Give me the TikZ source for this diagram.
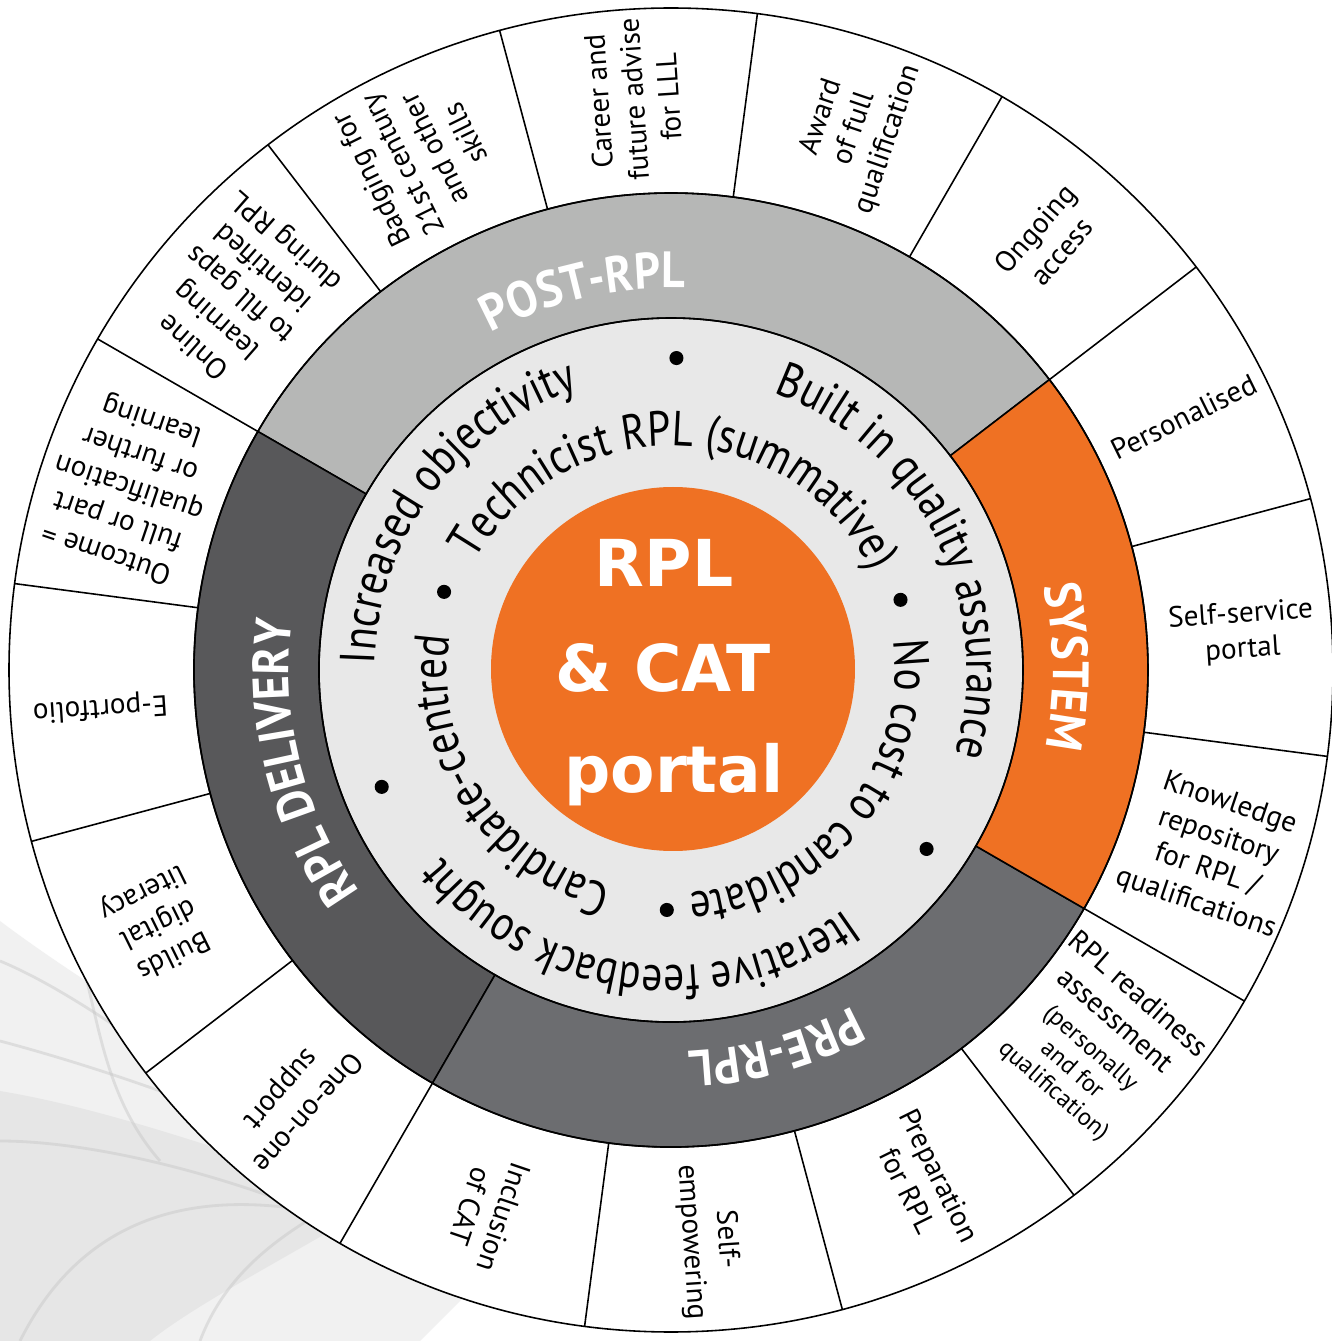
\documentclass[tikz,border=0pt]{standalone}
\usepackage{fontspec}
\setmainfont{PT Sans}
\newfontfamily\ringfam[FakeStretch=0.84]{PT Sans}
\newfontfamily\bandfam[FakeStretch=0.9]{PT Sans}
\newfontfamily\centerfam{DejaVu Sans}
\usetikzlibrary{decorations.text}
\definecolor{rorange}{HTML}{EF7123}
\definecolor{ringgray}{HTML}{E8E8E8}
\definecolor{postgray}{HTML}{B6B7B6}
\definecolor{delivgray}{HTML}{58585A}
\definecolor{pregray}{HTML}{6C6D70}
\definecolor{smoke}{HTML}{D9D9D9}
\newcommand{\ringfnt}{\ringfam\fontsize{14}{16}\selectfont}
\newcommand{\bandfnt}{\bandfam\bfseries\fontsize{14.5}{17}\selectfont}
\newcommand{\smallfnt}{\fontsize{7}{8.5}\selectfont}
\newcommand{\arctext}[4]{%
  \pgfmathsetmacro{\arcS}{#2+#3}%
  \pgfmathsetmacro{\arcE}{#2-#3}%
  \path[decorate,decoration={text along path,text align=center,text={#4}}]
    ([shift={(\arcS:#1)}]C) arc[start angle=\arcS,end angle=\arcE,radius=#1];}
\newcommand{\sector}[3]{%
  \filldraw[#1,draw=black,line width=0.45pt]
    ([shift={(#2:352)}]C) arc[start angle=#2,end angle=#3,radius=352]
    -- ([shift={(#3:477)}]C) arc[start angle=#3,end angle=#2,radius=477] -- cycle;}
\begin{document}
\begin{tikzpicture}[x=0.01cm,y=0.01cm,
  lbl/.style={align=center,font=\fontsize{8.3}{10}\selectfont,inner sep=0pt},
  dot/.style={circle,fill=black,minimum size=4pt,inner sep=0pt},
  ctr/.style={text=white,font=\centerfam\bfseries\fontsize{18.4}{29}\selectfont,anchor=base},
  ringline/.style={line width=0.45pt},
  wisp/.style={draw=gray!45,line width=0.8pt,opacity=0.45}]
\useasboundingbox (0,0) rectangle (1332,1341);
\fill[white] (0,0) rectangle (1332,1341);
\coordinate (C) at (671,671);
\coordinate (C0) at (673,672);
% faint smoke texture, bottom left
\fill[smoke,opacity=0.35] (0,420) .. controls (80,360) and (180,300) .. (300,230)
  .. controls (380,180) and (450,120) .. (480,60) -- (420,0) -- (0,0) -- cycle;
\fill[smoke,opacity=0.45] (0,250) .. controls (120,230) and (250,180) .. (380,140)
  .. controls (300,90) and (200,40) .. (150,0) -- (0,0) -- cycle;
\draw[wisp] (0,380) .. controls (120,330) and (250,200) .. (460,110);
\draw[wisp] (0,300) .. controls (150,260) and (300,200) .. (440,130);
\draw[wisp] (20,0) .. controls (80,120) and (200,180) .. (420,100);
\draw[wisp] (0,200) .. controls (100,200) and (260,160) .. (400,90);
\draw[wisp] (60,440) .. controls (100,360) and (90,260) .. (160,180);
\draw[wisp] (200,0) .. controls (230,80) and (300,120) .. (380,160);
\fill[white] (C) circle[radius=662];
% inner light ring
\fill[ringgray] (C) circle[radius=352];
% band sectors
\sector{postgray}{37.5}{150}
\sector{delivgray}{150}{240}
\sector{pregray}{240}{330}
\sector{rorange}{330}{397.5}
% outer circles and dividers
\draw[ringline] (C) circle[radius=662];
\draw[ringline] (C) circle[radius=477];
\draw[ringline] (C) circle[radius=352];
\foreach \a in {15,37.5,60,82.5,105,127.5,150,172.5,195,217.5,240,262.5,285,307.5,330,352.5}
  \draw[ringline] ([shift={(\a:477)}]C) -- ([shift={(\a:662)}]C);
% centre
\fill[rorange] (C0) circle[radius=182];
\node[ctr] (t1) at (664,754) {RPL};
\node[ctr] (t2) at (663,649) {\& CAT};
\node[ctr] (t3) at (674,548) {portal};
% ring texts
\arctext{296}{143.5}{60}{|\ringfnt|Increased objectivity}
\arctext{296}{26.5}{60}{|\ringfnt|Built in quality assurance}
\arctext{296}{-97.5}{60}{|\ringfnt|Iterative feedback sought}
\arctext{224}{88.5}{80}{|\ringfnt|Technicist RPL (summative)}
\arctext{224}{-39}{70}{|\ringfnt|No cost to candidate}
\arctext{224}{-147}{70}{|\ringfnt|Candidate-centred}
\node[dot] (d1) at ([shift={(89:312)}]C) {};
\node[dot] (d2) at ([shift={(-35:312)}]C) {};
\node[dot] (d3) at ([shift={(-158:312)}]C) {};
\node[dot] (d4) at ([shift={(161:240)}]C) {};
\node[dot] (d5) at ([shift={(17:240)}]C) {};
\node[dot] (d6) at ([shift={(-91:240)}]C) {};
% band labels
\arctext{382}{103}{40}{|\bandfnt\color{white}|POST-RPL}
\arctext{382}{0.5}{40}{|\bandfnt\color{white}|SYSTEM}
\arctext{382}{-74.5}{40}{|\bandfnt\color{white}|PRE-RPL}
\arctext{382}{194}{40}{|\bandfnt\color{white}|RPL DELIVERY}
% outer labels
\node[lbl,rotate=93.75] (s1) at ([shift={(93.75:572)}]C) {Career and\\future advise\\for LLL};
\node[lbl,rotate=71.25] (s2) at ([shift={(71.25:572)}]C) {Award\\of full\\qualification};
\node[lbl,rotate=48.75] (s3) at ([shift={(48.75:572)}]C) {Ongoing\\access};
\node[lbl,rotate=26.25] (s4) at ([shift={(26.25:572)}]C) {Personalised};
\node[lbl,rotate=3.75] (s5) at ([shift={(3.75:572)}]C) {Self-service\\portal};
\node[lbl,rotate=-18.75] (s6) at ([shift={(-18.75:572)}]C) {Knowledge\\repository\\for RPL /\\qualifications};
\node[lbl,rotate=-41.25] (s7) at ([shift={(-41.25:565)}]C) {RPL readiness\\assessment\\{\smallfnt(personally}\\[-2pt]{\smallfnt and for}\\[-2pt]{\smallfnt qualification)}};
\node[lbl,rotate=-63.75] (s8) at ([shift={(-63.75:572)}]C) {Preparation\\for RPL};
\node[lbl,rotate=-86.25] (s9) at ([shift={(-86.25:572)}]C) {Self-\\empowering};
\node[lbl,rotate=-108.75] (s10) at ([shift={(-108.75:572)}]C) {Inclusion\\of CAT};
\node[lbl,rotate=-131.25] (s11) at ([shift={(-131.25:572)}]C) {One-on-one\\support};
\node[lbl,rotate=-153.75] (s12) at ([shift={(-153.75:572)}]C) {Builds\\digital\\literacy};
\node[lbl,rotate=-176.25] (s13) at ([shift={(-176.25:572)}]C) {E-portfolio};
\node[lbl,rotate=161.25] (s14) at ([shift={(161.25:572)}]C) {Outcome =\\full or part\\qualification\\or further\\learning};
\node[lbl,rotate=138.75] (s15) at ([shift={(138.75:572)}]C) {Online\\learning\\to fill gaps\\identified\\during RPL};
\node[lbl,rotate=116.25] (s16) at ([shift={(116.25:572)}]C) {Badging for\\21st century\\and other\\skills};
\end{tikzpicture}
\end{document}
